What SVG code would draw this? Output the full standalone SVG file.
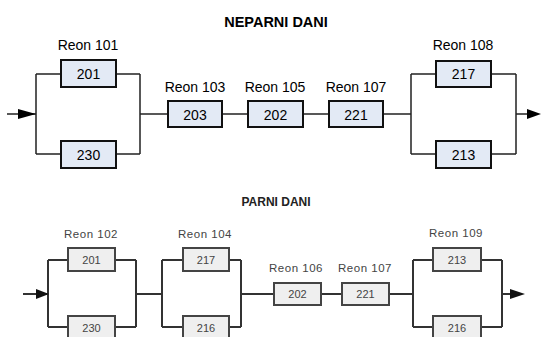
<svg xmlns="http://www.w3.org/2000/svg" width="541" height="337" viewBox="0 0 541 337">
<style>
.t{font-family:"Liberation Sans",Arial,sans-serif;text-anchor:middle;fill:#000}
.ttl{font-weight:bold;font-size:14.5px}
.lb{font-size:14px}
.nb{font-size:14px}
.b1{fill:#e3eaf5;stroke:#111;stroke-width:2}
.w1{fill:none;stroke:#222;stroke-width:1.5}
.ttl2{font-weight:bold;font-size:12px;fill:#222}
.lb2{font-size:11.5px;fill:#444;letter-spacing:0.5px}
.nb2{font-size:11px;fill:#444}
.b2{fill:#efefef;stroke:#444;stroke-width:2}
.w2{fill:none;stroke:#333;stroke-width:2}
</style>
<rect width="541" height="337" fill="#fff"/>
<g id="connectors">
<path class="w1" d="M7,114H36M36,74V154M36,74H61M36,154H61M116,74H140M116,154H140M140,74V154M140,114H168M222,114H248M303,114H329M383,114H411M411,74V154M411,74H436M411,154H436M491,74H516M491,154H516M516,74V154M516,114H528"/>
<polygon points="18,109 36,114 18,119" fill="#000"/>
<polygon points="527,109 541,114 527,119" fill="#000"/>
<path class="w2" d="M23,294H48M48,260V327M48,260H68M48,327H68M115,260H136M115,327H136M136,260V327M136,294H162M162,260V327M162,260H183M162,327H183M229,260H241M229,327H241M241,260V327M241,294H274M321,294H342M389,294H413M413,260V327M413,260H433M413,327H433M481,260H502M481,327H502M502,260V327M502,294H512"/>
<polygon points="510,289 525,294 510,299" fill="#111"/>
<polygon points="36,289 49,294 36,299" fill="#111"/>
</g>
<text class="t ttl" x="276" y="27">NEPARNI DANI</text>
<text class="t ttl2" x="276" y="206">PARNI DANI</text>
<g id="n201a"><text class="t lb" x="88" y="50">Reon 101</text><rect class="b1" x="61" y="60" width="55" height="27"/><text class="t nb" x="88.5" y="79">201</text></g>
<g id="n230a"><rect class="b1" x="61" y="141" width="55" height="27"/><text class="t nb" x="88.5" y="160">230</text></g>
<g id="n203a"><text class="t lb" x="195" y="92">Reon 103</text><rect class="b1" x="168" y="101" width="54" height="26"/><text class="t nb" x="195" y="119.5">203</text></g>
<g id="n202a"><text class="t lb" x="275" y="92">Reon 105</text><rect class="b1" x="248" y="101" width="55" height="26"/><text class="t nb" x="275.5" y="119.5">202</text></g>
<g id="n221a"><text class="t lb" x="356" y="92">Reon 107</text><rect class="b1" x="329" y="101" width="54" height="26"/><text class="t nb" x="356" y="119.5">221</text></g>
<g id="n217a"><text class="t lb" x="463" y="50">Reon 108</text><rect class="b1" x="436" y="61" width="55" height="26"/><text class="t nb" x="463.5" y="79">217</text></g>
<g id="n213a"><rect class="b1" x="436" y="141" width="55" height="27"/><text class="t nb" x="463.5" y="160">213</text></g>
<g id="n201b"><text class="t lb2" x="91" y="238">Reon 102</text><rect class="b2" x="68" y="248" width="47" height="23"/><text class="t nb2" x="91.5" y="264">201</text></g>
<g id="n230b"><rect class="b2" x="68" y="316" width="47" height="23"/><text class="t nb2" x="91.5" y="332">230</text></g>
<g id="n217b"><text class="t lb2" x="205" y="238">Reon 104</text><rect class="b2" x="183" y="248" width="46" height="23"/><text class="t nb2" x="206" y="264">217</text></g>
<g id="n216b"><rect class="b2" x="183" y="316" width="46" height="23"/><text class="t nb2" x="206" y="332">216</text></g>
<g id="n202b"><text class="t lb2" x="296" y="272">Reon 106</text><rect class="b2" x="274" y="283" width="47" height="22"/><text class="t nb2" x="297.5" y="298">202</text></g>
<g id="n221b"><text class="t lb2" x="365" y="272">Reon 107</text><rect class="b2" x="342" y="283" width="47" height="22"/><text class="t nb2" x="365.5" y="298">221</text></g>
<g id="n213b"><text class="t lb2" x="456" y="237">Reon 109</text><rect class="b2" x="433" y="248" width="48" height="23"/><text class="t nb2" x="457" y="264">213</text></g>
<g id="n216c"><rect class="b2" x="433" y="316" width="48" height="23"/><text class="t nb2" x="457" y="332">216</text></g>
</svg>
